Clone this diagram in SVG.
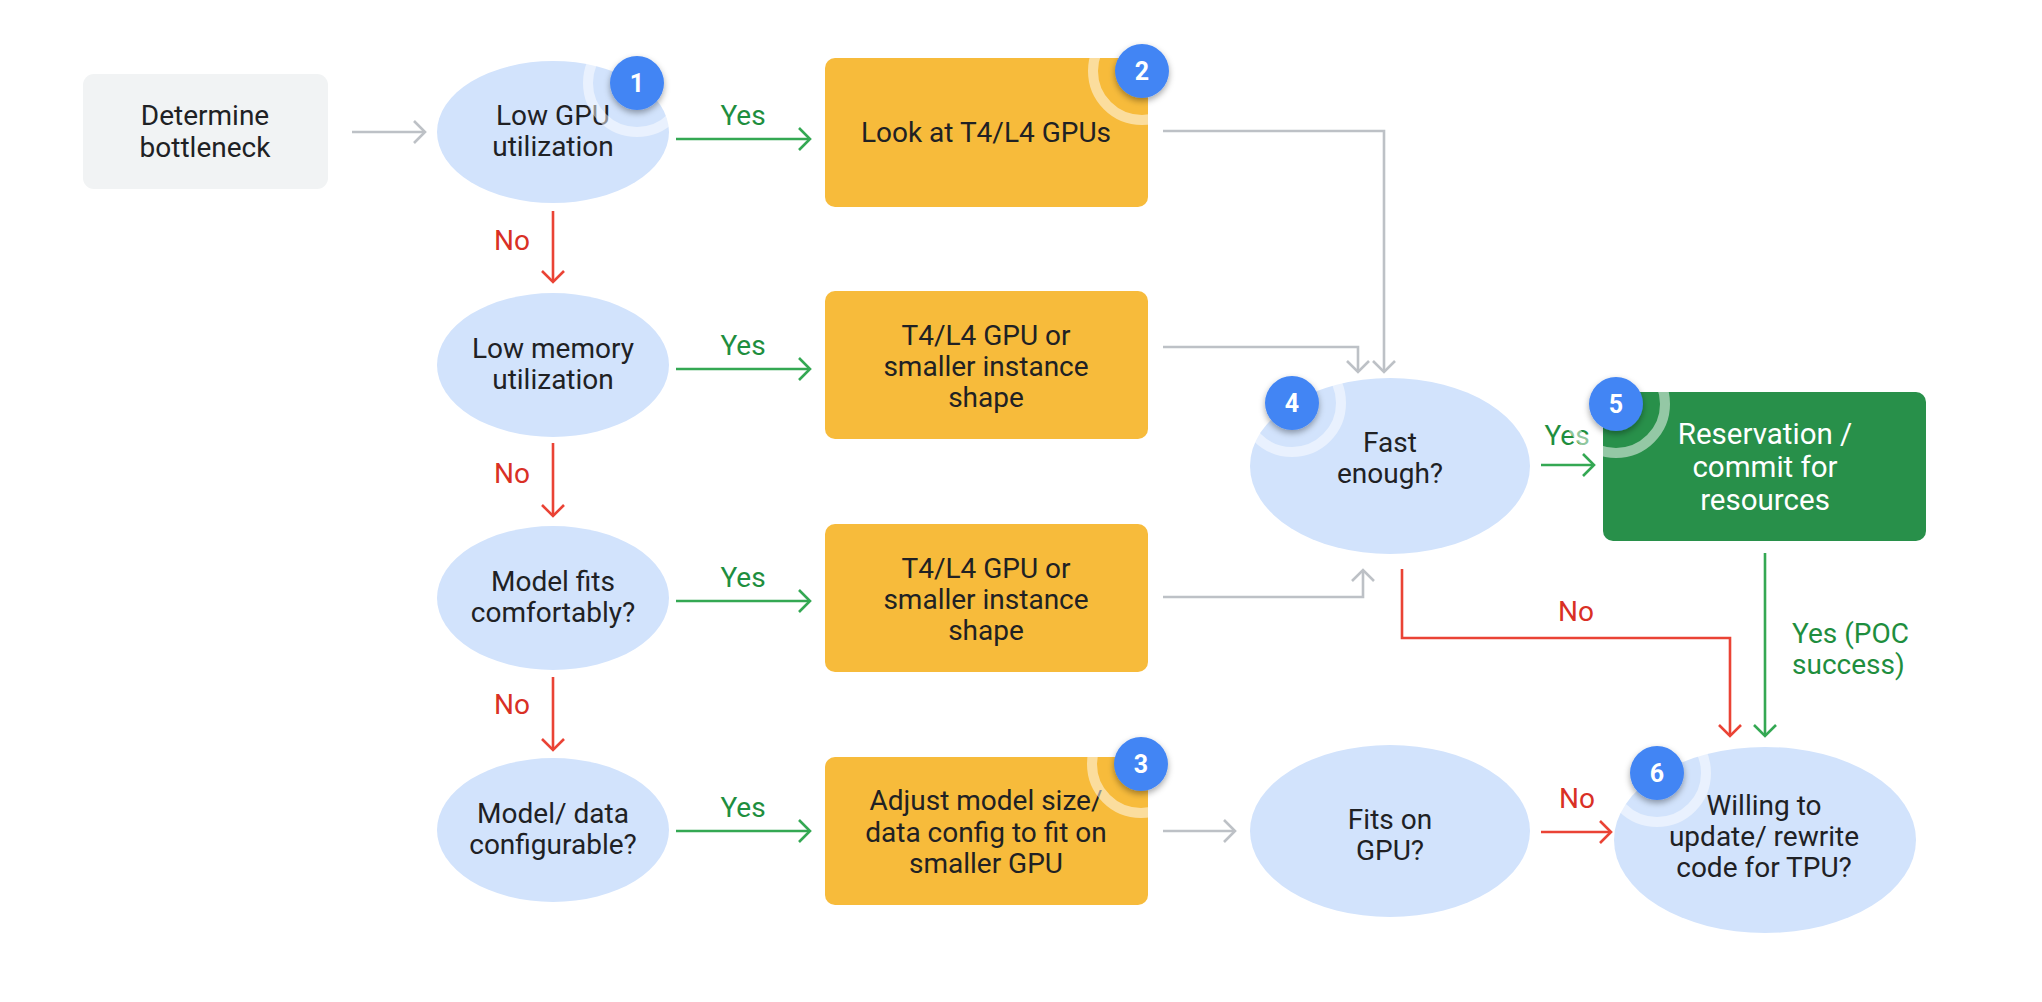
<svg xmlns="http://www.w3.org/2000/svg" width="2042" height="1002" viewBox="0 0 2042 1002">
<defs>
<style>
.t{font-family:Roboto,"Liberation Sans",sans-serif;font-size:28px;fill:#202124;text-anchor:middle}
.w{fill:#ffffff;font-size:29.5px}
.lg{fill:#1E8E3E}
.lr{fill:#D93025}
.ell{fill:#D2E3FC}
.box{fill:#F7BB3B}
.grn{fill:#28904A}
.gry{fill:#F1F3F4}
.ring{fill:none;stroke:#ffffff;stroke-opacity:0.5;stroke-width:10}
.badge{fill:#4285F4;filter:url(#sh)}
.bn{font-family:Roboto,"Liberation Sans",sans-serif;font-weight:700;font-size:25px;fill:#ffffff;text-anchor:middle}
.c{fill:none;stroke-width:2.6}
.cg{stroke:#BDC1C6}
.cgr{stroke:#34A853}
.cr{stroke:#EA4335}
</style>
<filter id="sh" x="-50%" y="-50%" width="200%" height="200%">
<feDropShadow dx="0" dy="3" stdDeviation="3" flood-color="#000000" flood-opacity="0.35"/>
</filter>
<marker id="mg" markerUnits="userSpaceOnUse" markerWidth="30" markerHeight="30" viewBox="-15 -15 30 30" refX="0" refY="0" orient="auto">
<path d="M-11,-11 L0,0 L-11,11" fill="none" stroke="#BDC1C6" stroke-width="2.6"/>
</marker>
<marker id="mgr" markerUnits="userSpaceOnUse" markerWidth="30" markerHeight="30" viewBox="-15 -15 30 30" refX="0" refY="0" orient="auto">
<path d="M-11,-11 L0,0 L-11,11" fill="none" stroke="#34A853" stroke-width="2.6"/>
</marker>
<marker id="mr" markerUnits="userSpaceOnUse" markerWidth="30" markerHeight="30" viewBox="-15 -15 30 30" refX="0" refY="0" orient="auto">
<path d="M-11,-11 L0,0 L-11,11" fill="none" stroke="#EA4335" stroke-width="2.6"/>
</marker>
</defs>
<rect width="2042" height="1002" fill="#ffffff"/>

<g id="connectors">
<path class="c cg" d="M352,132 H425" marker-end="url(#mg)"/>
<path class="c cgr" d="M676,139 H810" marker-end="url(#mgr)"/>
<path class="c cg" d="M1163,131 H1384 V372" marker-end="url(#mg)"/>
<path class="c cg" d="M1163,347 H1358 V372" marker-end="url(#mg)"/>
<path class="c cg" d="M1163,597 H1363 V570" marker-end="url(#mg)"/>
<path class="c cg" d="M1163,831 H1235" marker-end="url(#mg)"/>
<path class="c cgr" d="M1541,465 H1594" marker-end="url(#mgr)"/>
<path class="c cr" d="M1402,569 V638 H1730 V736" marker-end="url(#mr)"/>
<path class="c cgr" d="M1765,553 V736" marker-end="url(#mgr)"/>
<path class="c cr" d="M1541,832 H1611" marker-end="url(#mr)"/>
<path class="c cr" d="M553,211 V282" marker-end="url(#mr)"/>
<path class="c cr" d="M553,443 V516" marker-end="url(#mr)"/>
<path class="c cr" d="M553,677 V750" marker-end="url(#mr)"/>
<path class="c cgr" d="M676,369 H810" marker-end="url(#mgr)"/>
<path class="c cgr" d="M676,601 H810" marker-end="url(#mgr)"/>
<path class="c cgr" d="M676,831 H810" marker-end="url(#mgr)"/>
<text class="t lg" x="743" y="125">Yes</text>
<text class="t lg" x="743" y="355">Yes</text>
<text class="t lg" x="743" y="587">Yes</text>
<text class="t lg" x="743" y="817">Yes</text>
<text class="t lr" x="512" y="250">No</text>
<text class="t lr" x="512" y="483">No</text>
<text class="t lr" x="512" y="714">No</text>
<text class="t lg" x="1567" y="445">Yes</text>
<text class="t lr" x="1576" y="621">No</text>
<text class="t lg" x="1792" y="643" style="text-anchor:start">Yes (POC</text>
<text class="t lg" x="1792" y="674" style="text-anchor:start">success)</text>
<text class="t lr" x="1577" y="808">No</text>
</g>

<g id="determine">
<rect class="gry" x="83" y="74" width="245" height="115" rx="11"/>
<text class="t" x="205" y="125">Determine</text>
<text class="t" x="205" y="157">bottleneck</text>
</g>

<g id="low-gpu">
<ellipse class="ell" cx="553" cy="132" rx="116" ry="71"/>
<text class="t" x="553" y="125">Low GPU</text>
<text class="t" x="553" y="156">utilization</text>
<circle class="ring" cx="637" cy="83" r="49"/>
<circle class="badge" cx="637" cy="83" r="27"/>
<text class="bn" x="637" y="92">1</text>
</g>

<g id="low-memory">
<ellipse class="ell" cx="553" cy="365" rx="116" ry="72"/>
<text class="t" x="553" y="358">Low memory</text>
<text class="t" x="553" y="389">utilization</text>
</g>

<g id="model-fits">
<ellipse class="ell" cx="553" cy="598" rx="116" ry="72"/>
<text class="t" x="553" y="591">Model fits</text>
<text class="t" x="553" y="622">comfortably?</text>
</g>

<g id="model-data">
<ellipse class="ell" cx="553" cy="830" rx="116" ry="72"/>
<text class="t" x="553" y="823">Model/ data</text>
<text class="t" x="553" y="854">configurable?</text>
</g>

<g id="look-t4">
<rect class="box" x="825" y="58" width="323" height="149" rx="10"/>
<text class="t" x="986" y="142">Look at T4/L4 GPUs</text>
<circle class="ring" cx="1142" cy="71" r="49"/>
<circle class="badge" cx="1142" cy="71" r="27"/>
<text class="bn" x="1142" y="80">2</text>
</g>

<g id="t4-smaller-1">
<rect class="box" x="825" y="291" width="323" height="148" rx="10"/>
<text class="t" x="986" y="345">T4/L4 GPU or</text>
<text class="t" x="986" y="376">smaller instance</text>
<text class="t" x="986" y="407">shape</text>
</g>

<g id="t4-smaller-2">
<rect class="box" x="825" y="524" width="323" height="148" rx="10"/>
<text class="t" x="986" y="578">T4/L4 GPU or</text>
<text class="t" x="986" y="609">smaller instance</text>
<text class="t" x="986" y="640">shape</text>
</g>

<g id="adjust-model">
<rect class="box" x="825" y="757" width="323" height="148" rx="10"/>
<text class="t" x="986" y="810">Adjust model size/</text>
<text class="t" x="986" y="842">data config to fit on</text>
<text class="t" x="986" y="873">smaller GPU</text>
<circle class="ring" cx="1141" cy="764" r="49"/>
<circle class="badge" cx="1141" cy="764" r="27"/>
<text class="bn" x="1141" y="773">3</text>
</g>

<g id="fast-enough">
<ellipse class="ell" cx="1390" cy="466" rx="140" ry="88"/>
<text class="t" x="1390" y="452">Fast</text>
<text class="t" x="1390" y="483">enough?</text>
<circle class="ring" cx="1292" cy="403" r="49"/>
<circle class="badge" cx="1292" cy="403" r="27"/>
<text class="bn" x="1292" y="412">4</text>
</g>

<g id="reservation">
<rect class="grn" x="1603" y="392" width="323" height="149" rx="10"/>
<text class="t w" x="1765" y="444">Reservation /</text>
<text class="t w" x="1765" y="477">commit for</text>
<text class="t w" x="1765" y="510">resources</text>
<circle class="ring" cx="1616" cy="404" r="49"/>
<circle class="badge" cx="1616" cy="404" r="27"/>
<text class="bn" x="1616" y="413">5</text>
</g>

<g id="fits-gpu">
<ellipse class="ell" cx="1390" cy="831" rx="140" ry="86"/>
<text class="t" x="1390" y="829">Fits on</text>
<text class="t" x="1390" y="860">GPU?</text>
</g>

<g id="willing-tpu">
<ellipse class="ell" cx="1765" cy="840" rx="151" ry="93"/>
<text class="t" x="1764" y="815">Willing to</text>
<text class="t" x="1764" y="846">update/ rewrite</text>
<text class="t" x="1764" y="877">code for TPU?</text>
<circle class="ring" cx="1657" cy="773" r="49"/>
<circle class="badge" cx="1657" cy="773" r="27"/>
<text class="bn" x="1657" y="782">6</text>
</g>
</svg>
